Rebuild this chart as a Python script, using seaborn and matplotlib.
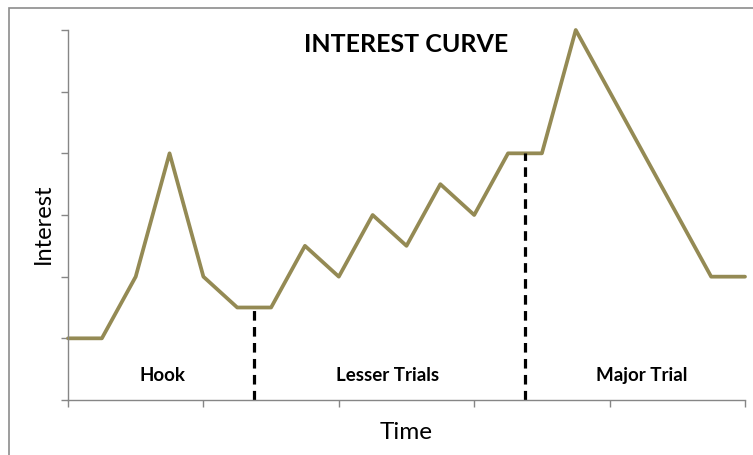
import numpy as np
import pandas as pd
import matplotlib
matplotlib.use("Agg")
import matplotlib.pyplot as plt
import seaborn as sns
from matplotlib.patches import Rectangle

# interest curve (y in grid steps)
time = [0, 1, 2, 3, 4, 5, 6, 7, 8, 9, 10, 11, 12, 13, 14, 15, 19, 20]
interest = [1, 1, 2, 4, 2, 1.5, 1.5, 2.5, 2, 3, 2.5, 3.5, 3, 4, 4, 6, 2, 2]

# phase dividers (x, height) and phase labels
divider_x = [5.5, 13.5]
divider_top = [1.5, 4]
phase_names = ["Hook", "Lesser Trials", "Major Trial"]
phase_x = [2.8, 9.45, 16.95]

sns.set_theme(style="white")
plt.rcParams["font.family"] = ["Lato", "DejaVu Sans"]
plt.rcParams["text.color"] = "black"
plt.rcParams["axes.labelcolor"] = "black"

fig = plt.figure(figsize=(7.53, 4.55), dpi=100)
ax = fig.add_axes([68 / 753, 1 - 400 / 455, 677 / 753, 370 / 455])

df = pd.DataFrame({"Time": time, "Interest": interest})
sns.lineplot(data=df, x="Time", y="Interest", ax=ax, color="#948A54",
             linewidth=2.7, clip_on=False)

for xd, top in zip(divider_x, divider_top):
    ax.plot([xd, xd], [0, top], color="black", linestyle=(0, (3, 2)),
            linewidth=2.3)

for name, xp in zip(phase_names, phase_x):
    ax.text(xp, 0.39, name, ha="center", va="center", fontsize=13.5,
            fontweight="bold")

ax.text(0.5, 0.962, "INTEREST CURVE", transform=ax.transAxes, ha="center",
        va="center", fontsize=18, fontweight="bold")

ax.set_xlim(0, 20)
ax.set_ylim(0, 6)
ax.set_xticks(np.arange(0, 21, 4))
ax.set_yticks(np.arange(0, 7, 1))
ax.set_xticklabels([])
ax.set_yticklabels([])
ax.tick_params(axis="both", which="major", direction="out", length=5,
               width=1, color="#868686", bottom=True, left=True)
sns.despine(ax=ax)
for s in ["left", "bottom"]:
    ax.spines[s].set_color("#868686")
    ax.spines[s].set_linewidth(1)

ax.set_xlabel("Time", fontsize=17.5)
ax.set_ylabel("Interest", fontsize=17)
ax.xaxis.set_label_coords(0.5, -0.06)
ax.yaxis.set_label_coords(-0.021, 0.476)

# chart area border (runs off the right and bottom edges)
fig.patches.append(Rectangle((9 / 753, -0.1), 1.2, 1 - 8 / 455 + 0.1,
                             transform=fig.transFigure, fill=False,
                             edgecolor="#8c8c8c", linewidth=1.2))

fig.savefig("out.png", dpi=100)
